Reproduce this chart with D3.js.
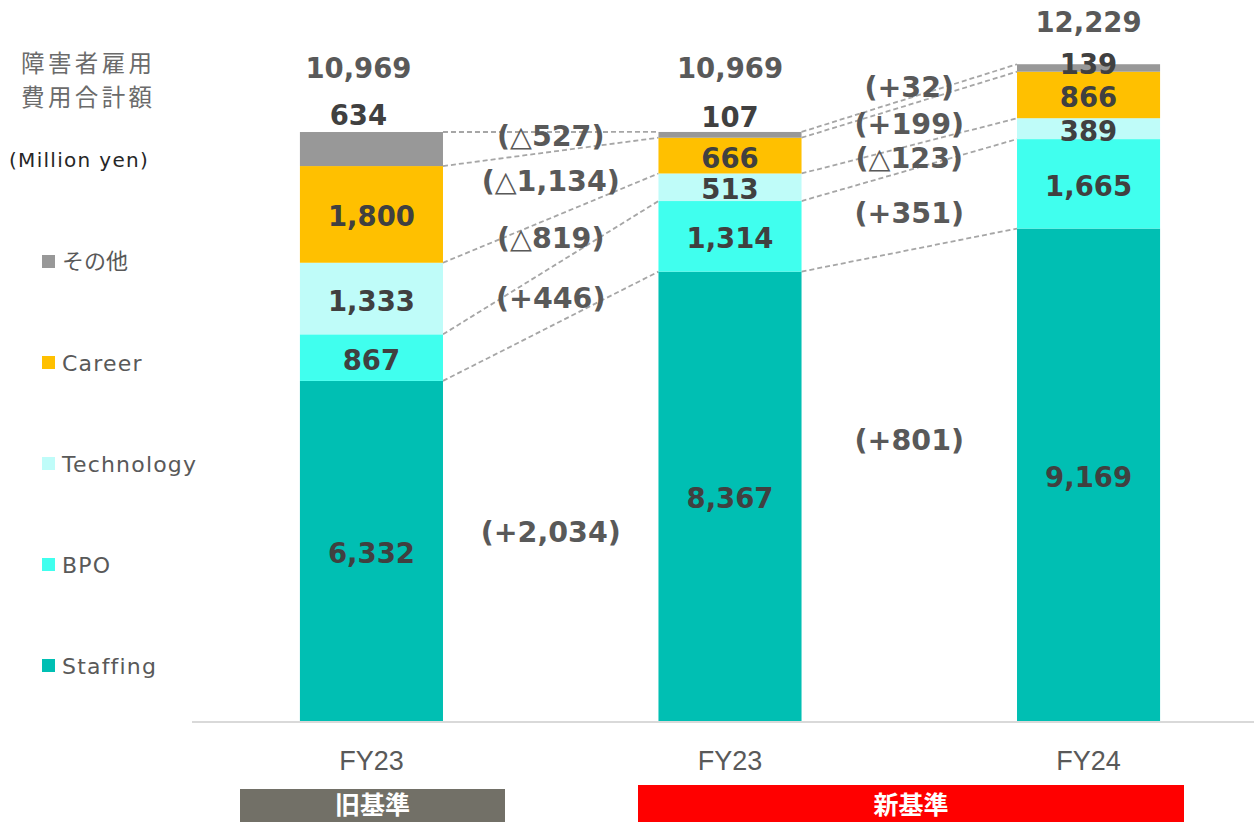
<!DOCTYPE html>
<html>
<head>
<meta charset="utf-8">
<script src="https://cdn.jsdelivr.net/npm/d3@7"></script>
<style>
  html, body { margin: 0; padding: 0; background: #fff; }
  svg { display: block; }
</style>
</head>
<body>
<svg id="chart" width="1254" height="822"></svg>
<script>
// ---- data ----
const periods = ["FY23", "FY23", "FY24"];
const segments = ["Staffing", "BPO", "Technology", "Career", "その他"];
const staffing   = [6332, 8367, 9169];
const bpo        = [867, 1314, 1665];
const technology = [1333, 513, 389];
const career     = [1800, 666, 866];
const other      = [634, 107, 139];
const totalLabels = ["10,969", "10,969", "12,229"];
// changes between neighbouring bars, listed bottom segment first
const changeOldToNew = ["(+2,034)", "(+446)", "(△819)", "(△1,134)", "(△527)"];
const changeFY23toFY24 = ["(+801)", "(+351)", "(△123)", "(+199)", "(+32)"];
const basisLabels = ["旧基準", "新基準"];

// ---- styling / layout ----
const colors = ["#00bfb3", "#40ffee", "#bffcf9", "#ffc000", "#989898"];
const labelFont = "'DejaVu Sans', Verdana, sans-serif";
const changeY = [[532, 298, 238, 181, 136], [440, 213, 158, 124, 87]];
const otherLabelOffset = [-17, -15, 0];
const totalLabelOffset = [-64, -64, -42];
const topLabelShiftX = [-13, 0, 0];

const svg = d3.select("#chart");

const x = d3.scaleBand()
  .domain(d3.range(periods.length))
  .range([192, 1268])
  .paddingInner(0.601)
  .paddingOuter(0.301);

const y = d3.scaleLinear().domain([0, 13000]).range([721, 721 - 13000 * 0.05371]);

// stack the series
const rows = periods.map((p, i) => ({
  i, "Staffing": staffing[i], "BPO": bpo[i], "Technology": technology[i],
  "Career": career[i], "その他": other[i]
}));
const stacked = d3.stack().keys(segments)(rows);

// dashed connectors from each segment top to the same segment on the next bar
const connectors = svg.append("g");
stacked.forEach(layer => {
  for (let i = 0; i < periods.length - 1; i++) {
    connectors.append("line")
      .attr("x1", x(i) + x.bandwidth())
      .attr("y1", y(layer[i][1]))
      .attr("x2", x(i + 1))
      .attr("y2", y(layer[i + 1][1]))
      .attr("stroke", "#a6a6a6")
      .attr("stroke-width", 1.8)
      .attr("stroke-dasharray", "5,3");
  }
});

// bars
const barG = svg.append("g");
stacked.forEach((layer, k) => {
  barG.selectAll(null).data(layer).enter().append("rect")
    .attr("x", (d, i) => x(i))
    .attr("y", d => y(d[1]))
    .attr("width", x.bandwidth())
    .attr("height", d => y(d[0]) - y(d[1]))
    .attr("fill", colors[k]);
});

// baseline
svg.append("line")
  .attr("x1", 192).attr("x2", 1254)
  .attr("y1", y(0) + 1).attr("y2", y(0) + 1)
  .attr("stroke", "#d9d9d9").attr("stroke-width", 2);

// segment value labels
const fmt = d3.format(",");
const valueG = svg.append("g")
  .attr("font-family", labelFont).attr("font-weight", "bold")
  .attr("font-size", 27.5).attr("fill", "#404040")
  .attr("text-anchor", "middle").attr("dominant-baseline", "central");
stacked.forEach((layer, k) => {
  layer.forEach((d, i) => {
    const v = d[1] - d[0];
    let cx = x(i) + x.bandwidth() / 2;
    let cy = (y(d[0]) + y(d[1])) / 2 + 2;
    if (k === segments.length - 1) {
      cy = y(d[1]) + otherLabelOffset[i];
      cx += topLabelShiftX[i];
    }
    valueG.append("text").attr("x", cx).attr("y", cy).text(fmt(v));
  });
});

// totals
const topLayer = stacked[stacked.length - 1];
svg.append("g")
  .attr("font-family", labelFont).attr("font-weight", "bold")
  .attr("font-size", 27.5).attr("fill", "#595959")
  .attr("text-anchor", "middle").attr("dominant-baseline", "central")
  .selectAll("text").data(totalLabels).enter().append("text")
  .attr("x", (d, i) => x(i) + x.bandwidth() / 2 + topLabelShiftX[i])
  .attr("y", (d, i) => y(topLayer[i][1]) + totalLabelOffset[i])
  .text(d => d);

// change labels between bars
const changeG = svg.append("g")
  .attr("font-family", labelFont).attr("font-weight", "bold")
  .attr("font-size", 28.5).attr("fill", "#595959")
  .attr("text-anchor", "middle").attr("dominant-baseline", "central");
[changeOldToNew, changeFY23toFY24].forEach((labels, g) => {
  const cx = (x(g) + x.bandwidth() + x(g + 1)) / 2;
  labels.forEach((t, k) => {
    changeG.append("text").attr("x", cx).attr("y", changeY[g][k]).text(t);
  });
});

// category axis labels
svg.append("g")
  .attr("font-family", "'Liberation Sans', Arial, sans-serif")
  .attr("font-size", 27).attr("fill", "#595959")
  .attr("text-anchor", "middle")
  .selectAll("text").data(periods).enter().append("text")
  .attr("x", (d, i) => x(i) + x.bandwidth() / 2)
  .attr("y", 770)
  .text(d => d);

// basis bands under the axis
const bands = [
  { x0: 240, x1: 505, y0: 789, fill: "#727067" },
  { x0: 638, x1: 1184, y0: 785, fill: "#ff0000" }
];
bands.forEach((b, i) => {
  svg.append("rect").attr("x", b.x0).attr("y", b.y0)
    .attr("width", b.x1 - b.x0).attr("height", 822 - b.y0).attr("fill", b.fill);
  svg.append("text")
    .attr("x", (b.x0 + b.x1) / 2).attr("y", 814)
    .attr("text-anchor", "middle")
    .attr("font-family", "'Noto Sans CJK JP', sans-serif")
    .attr("font-weight", "bold").attr("font-size", 25).attr("fill", "#fff")
    .text(basisLabels[i]);
});

// title
const title = svg.append("g")
  .attr("font-family", "'Noto Sans CJK JP', sans-serif")
  .attr("font-size", 23.5).attr("letter-spacing", 3.4).attr("fill", "#6b6b6b");
title.append("text").attr("x", 21).attr("y", 72).text("障害者雇用");
title.append("text").attr("x", 21).attr("y", 106).text("費用合計額");
svg.append("text").attr("x", 9).attr("y", 167)
  .attr("font-family", labelFont).attr("font-size", 20).attr("letter-spacing", 1.3)
  .attr("fill", "#262626")
  .text("(Million yen)");

// legend, top entry first
const legendItems = segments.map((s, k) => ({ name: s, color: colors[k] })).reverse();
const lg = svg.append("g");
legendItems.forEach((d, j) => {
  const cy = 261 + j * 101;
  const cjk = d.name === "その他";
  lg.append("rect").attr("x", 42).attr("y", cy - 6).attr("width", 13).attr("height", 13).attr("fill", d.color);
  lg.append("text").attr("x", 62).attr("y", cy + (cjk ? -2 : 1))
    .attr("dominant-baseline", "central")
    .attr("font-family", cjk ? "'Noto Sans CJK JP', sans-serif" : labelFont)
    .attr("font-size", 22).attr("letter-spacing", cjk ? 0 : 1.2).attr("fill", "#595959")
    .text(d.name);
});
</script>
</body>
</html>
